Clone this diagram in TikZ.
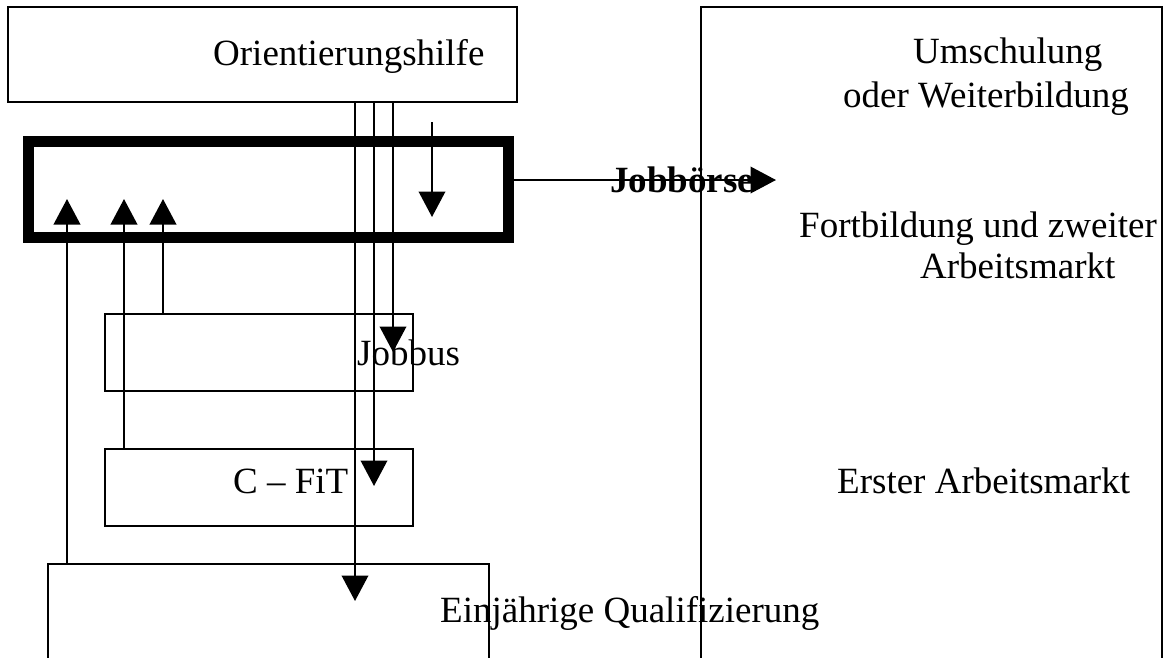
\documentclass[tikz,border=0pt]{standalone}
\usepackage{fontspec}
\setmainfont{Liberation Serif}
\usetikzlibrary{arrows.meta}
\begin{document}
\begin{tikzpicture}[x=1pt,y=-1pt,
  box/.style={draw, line width=2pt, inner sep=0pt},
  thickbox/.style={draw, line width=11pt, inner sep=0pt},
  lbl/.style={anchor=base west, inner sep=0pt, font=\fontsize{37}{44}\selectfont},
  blbl/.style={lbl, font=\fontsize{37}{44}\selectfont\bfseries},
  arr/.style={line width=2.2pt, -{Triangle[width=26.5pt,length=25.5pt]}}]
\useasboundingbox (0,0) rectangle (1168,657);
\clip (0,0) rectangle (1168,657);
% boxes
\node[box, minimum width=509pt, minimum height=95pt] (ori) at (262.5,54.5) {};
\node[thickbox, minimum width=479.5pt, minimum height=95.5pt] (boerse) at (268.25,189.25) {};
\node[box, minimum width=308pt, minimum height=77pt] (jobbus) at (259,352.5) {};
\node[box, minimum width=308pt, minimum height=77pt] (cfit) at (259,487.5) {};
\node[box, minimum width=441pt, minimum height=136pt] (einj) at (268.5,632) {};
\node[box, minimum width=461pt, minimum height=693pt] (right) at (931.5,353.5) {};
% texts
\node[lbl] (tori) at (213,65) {Orientierungshilfe};
\node[blbl] (tboerse) at (610,192) {Jobbörse};
\node[lbl] (tjobbus) at (357,365) {Jobbus};
\node[lbl] (tcfit) at (233,493) {C – FiT};
\node[lbl] (teinj) at (440,622) {Einjährige Qualifizierung};
\node[lbl] (tum1) at (913,63) {Umschulung};
\node[lbl] (tum2) at (843,107) {oder Weiterbildung};
\node[lbl] (tfo1) at (799,237) {Fortbildung und zweiter};
\node[lbl] (tfo2) at (920,278) {Arbeitsmarkt};
\node[lbl] (ter) at (837,493) {Erster Arbeitsmarkt};
% arrow tip coordinates
\coordinate (u1) at (67,199);
\coordinate (u2) at (124,199);
\coordinate (u3) at (163,199);
\coordinate (d1) at (355,601);
\coordinate (d2) at (374,486);
\coordinate (d3) at (393,352);
\coordinate (fa) at (432,122);
\coordinate (fb) at (432,217);
\coordinate (ht) at (776,180);
% connectors
\draw[arr] (u1 |- einj.north) -- (u1);
\draw[arr] (u2 |- cfit.north) -- (u2);
\draw[arr] (u3 |- jobbus.north) -- (u3);
\draw[arr] (d1 |- ori.south) -- (d1);
\draw[arr] (d2 |- ori.south) -- (d2);
\draw[arr] (d3 |- ori.south) -- (d3);
\draw[arr] (fa) -- (fb);
\draw[arr] (ht -| boerse.east) -- (ht);
\end{tikzpicture}
\end{document}
